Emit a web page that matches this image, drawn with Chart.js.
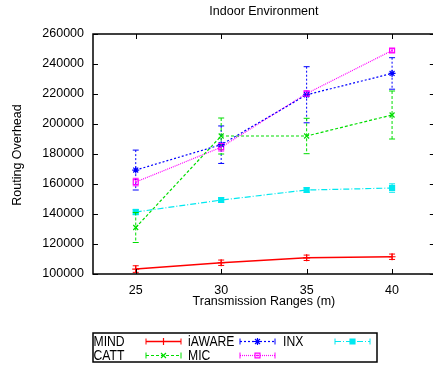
<!DOCTYPE html>
<html>
<head>
<meta charset="utf-8">
<script src="https://cdn.jsdelivr.net/npm/chart.js@4.4.1/dist/chart.umd.min.js"></script>
<style>
  html, body { margin: 0; padding: 0; background: #fff; overflow: hidden; width: 433px; height: 367px; }
  canvas { display: block; }
</style>
</head>
<body>
<canvas id="c" width="440" height="367" style="width:440px;height:367px"></canvas>
<script>
// Transmission ranges (m) on the x axis
const ranges = [25, 30, 35, 40];
// Routing overhead tick labels
const yTicks = [100000, 120000, 140000, 160000, 180000, 200000, 220000, 240000, 260000];

// Mean routing overhead per protocol and its error (half-height of bar)
const mind      = [103300, 107500, 110800, 111500];
const mindErr   = [2200, 1800, 1800, 1800];
const catt      = [131000, 192000, 192000, 206000];
const cattErr   = [10000, 12000, 11800, 16000];
const iaware    = [169300, 186200, 219500, 233700];
const iawareErr = [13300, 12500, 18700, 10500];
const mic       = [161300, 184500, 220300, 249000];
const micErr    = [2500, 2500, 1800, 1200];
const inx       = [141300, 149300, 156000, 157300];
const inxErr    = [1800, 1500, 1500, 2800];

const FONT = "'Liberation Sans', Arial, Helvetica, sans-serif";

function series(label, values, errs, color, dash, pointStyle, filled, legendRow, legendCol) {
  return {
    label,
    data: values.map((v, i) => ({ x: ranges[i], y: v })),
    errors: errs,
    borderColor: color,
    backgroundColor: filled ? color : 'rgba(0,0,0,0)',
    pointBorderColor: color,
    pointBackgroundColor: filled ? color : 'rgba(0,0,0,0)',
    borderWidth: 1.2,
    borderDash: dash,
    pointStyle,
    pointRadius: 3.5,
    pointBorderWidth: 1.2,
    tension: 0,
    fill: false,
    legendRow, legendCol
  };
}

const datasets = [
  series('MIND',   mind,   mindErr,   '#ff0000', [],           'cross',    false, 0, 0),
  series('iAWARE', iaware, iawareErr, '#0000ff', [2, 2],       'star',     false, 0, 1),
  series('INX',    inx,    inxErr,    '#00e8f0', [6, 2, 1, 2], 'rect',     true,  0, 2),
  series('CATT',   catt,   cattErr,   '#00dd00', [3, 2],       'crossRot', false, 1, 0),
  series('MIC',    mic,    micErr,    '#ff00ff', [1, 1],       'rect',     false, 1, 1)
];
datasets[0].borderWidth = 1.5;

function strokeSeg(ctx, x1, y1, x2, y2) {
  ctx.beginPath(); ctx.moveTo(x1, y1); ctx.lineTo(x2, y2); ctx.stroke();
}

const decorations = {
  id: 'decorations',
  afterDatasetsDraw(chart) {
    const ctx = chart.ctx;
    const ys = chart.scales.y;
    chart.data.datasets.forEach((ds, di) => {
      const meta = chart.getDatasetMeta(di);
      ctx.save();
      ctx.strokeStyle = ds.borderColor;
      ctx.lineWidth = 1;
      meta.data.forEach((pt, i) => {
        const v = ds.data[i].y, e = ds.errors[i];
        const top = ys.getPixelForValue(v + e);
        const bot = ys.getPixelForValue(v - e);
        ctx.setLineDash(ds.borderDash);
        strokeSeg(ctx, pt.x, top, pt.x, bot);
        ctx.setLineDash([]);
        strokeSeg(ctx, pt.x - 3, top, pt.x + 3, top);
        strokeSeg(ctx, pt.x - 3, bot, pt.x + 3, bot);
        if (ds.label === 'MIC') {
          ctx.fillStyle = ds.borderColor;
          ctx.fillRect(pt.x - 0.8, pt.y - 0.8, 1.6, 1.6);
        }
      });
      ctx.restore();
    });
  },
  afterDraw(chart) {
    const ctx = chart.ctx;
    const a = chart.chartArea;
    const xs = chart.scales.x, ys = chart.scales.y;
    ctx.save();
    // frame around the plot
    ctx.strokeStyle = '#000';
    ctx.lineWidth = 1.5;
    ctx.setLineDash([]);
    ctx.strokeRect(a.left, a.top, a.right - a.left, a.bottom - a.top);
    // inward tick marks on all four sides
    ctx.lineWidth = 1;
    ranges.forEach(v => {
      const x = Math.round(xs.getPixelForValue(v)) + 0.5;
      strokeSeg(ctx, x, a.bottom, x, a.bottom - 5);
      strokeSeg(ctx, x, a.top, x, a.top + 5);
    });
    yTicks.forEach(v => {
      const y = Math.round(ys.getPixelForValue(v)) + 0.5;
      strokeSeg(ctx, a.left, y, a.left + 5, y);
      strokeSeg(ctx, a.right, y, a.right - 5, y);
    });

    // titles
    ctx.fillStyle = '#000';
    ctx.textAlign = 'center';
    ctx.textBaseline = 'middle';
    ctx.font = `12.5px ${FONT}`;
    const cx = (a.left + a.right) / 2;
    ctx.fillText('Indoor Environment', cx, 12);
    ctx.fillText('Transmission Ranges (m)', cx, 302);
    ctx.save();
    ctx.translate(18, 155);
    ctx.rotate(-Math.PI / 2);
    ctx.fillText('Routing Overhead', 0, 0);
    ctx.restore();

    // legend box
    const lx = 93, ly = 333, lw = 284, lh = 29;
    ctx.lineWidth = 1.5;
    ctx.strokeRect(lx, ly, lw, lh);
    const colText = [93.5, 188, 283];
    const colSample = [146, 240, 335];
    const rowY = [341, 355];
    chart.data.datasets.forEach(ds => {
      const ty = rowY[ds.legendRow];
      ctx.save();
      ctx.translate(colText[ds.legendCol], ty);
      ctx.scale(0.87, 1);
      ctx.font = `14px ${FONT}`;
      ctx.textAlign = 'left';
      ctx.textBaseline = 'middle';
      ctx.fillStyle = '#000';
      ctx.fillText(ds.label, 0, 1);
      ctx.restore();

      const s0 = colSample[ds.legendCol], s1 = s0 + 35;
      const y = Math.round(ty) + 0.5;
      ctx.save();
      ctx.strokeStyle = ds.borderColor;
      ctx.lineWidth = ds.borderWidth;
      ctx.setLineDash(ds.borderDash);
      strokeSeg(ctx, s0, y, s1, y);
      ctx.setLineDash([]);
      ctx.lineWidth = 1;
      strokeSeg(ctx, s0, y - 3, s0, y + 3);
      strokeSeg(ctx, s1, y - 3, s1, y + 3);
      ctx.fillStyle = ds.pointBackgroundColor;
      ctx.lineWidth = 1.2;
      Chart.helpers.drawPoint(ctx, {
        pointStyle: ds.pointStyle, radius: 3.5, borderWidth: 1.2, rotation: 0
      }, (s0 + s1) / 2, y);
      if (ds.label === 'MIC') {
        ctx.fillStyle = ds.borderColor;
        ctx.fillRect((s0 + s1) / 2 - 0.8, y - 0.8, 1.6, 1.6);
      }
      ctx.restore();
    });
    ctx.restore();
  }
};

new Chart(document.getElementById('c'), {
  type: 'line',
  data: { datasets },
  options: {
    responsive: false,
    animation: false,
    devicePixelRatio: 1,
    layout: { padding: { top: 34, right: 5, left: 0, bottom: 0 } },
    plugins: { legend: { display: false }, title: { display: false }, tooltip: { enabled: false } },
    scales: {
      x: {
        type: 'linear',
        min: 22.5, max: 42.5,
        afterBuildTicks: s => { s.ticks = ranges.map(v => ({ value: v })); },
        afterFit: s => { s.height = 93; },
        grid: { display: false, drawTicks: false },
        border: { display: false },
        ticks: { padding: 9, color: '#000', font: { size: 12.5, family: FONT }, maxRotation: 0, callback: v => String(v) }
      },
      y: {
        type: 'linear',
        min: 100000, max: 260000,
        afterBuildTicks: s => { s.ticks = yTicks.map(v => ({ value: v })); },
        afterFit: s => { s.width = 93; },
        grid: { display: false, drawTicks: false },
        border: { display: false },
        ticks: { padding: 9, color: '#000', font: { size: 12.5, family: FONT }, callback: v => String(v) }
      }
    }
  },
  plugins: [decorations]
});
</script>
</body>
</html>
